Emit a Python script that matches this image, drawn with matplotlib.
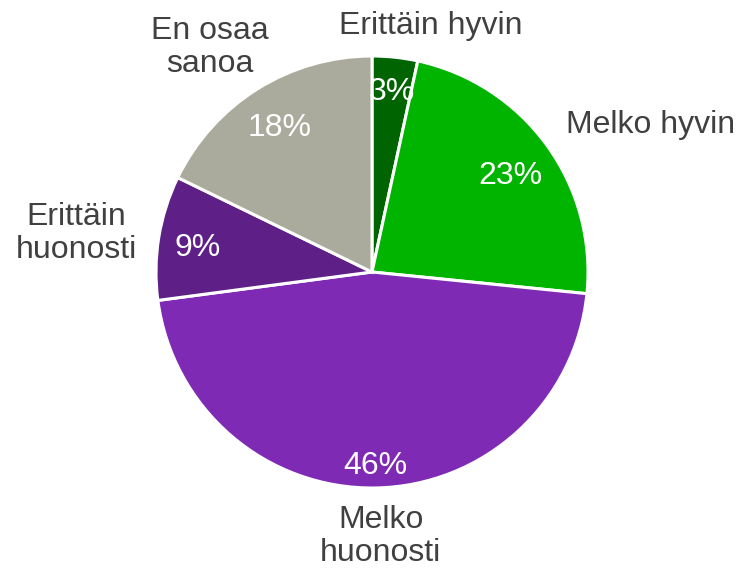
import matplotlib
matplotlib.use("Agg")
import matplotlib.pyplot as plt
import numpy as np

# Data (clockwise from top)
categories = ["Erittäin hyvin", "Melko hyvin", "Melko\nhuonosti", "Erittäin\nhuonosti", "En osaa\nsanoa"]
shares = [3.4, 23.2, 46.3, 9.3, 17.8]
colors = ["#006400", "#00B400", "#7F2AB5", "#5E1F87", "#ABAB9D"]

plt.rcParams["font.family"] = ["Liberation Sans", "DejaVu Sans"]

fig = plt.figure(figsize=[7.38, 5.72], dpi=100)
ax = fig.add_axes([156 / 738, 84 / 572, 432 / 738, 432 / 572])

wedges, texts, autotexts = ax.pie(
    shares, labels=categories, colors=colors, startangle=90, counterclock=False,
    autopct="%1.0f%%", pctdistance=0.83,
    wedgeprops=dict(edgecolor="white", linewidth=2.2),
    textprops=dict(fontsize=23, color="#404040", linespacing=1.12))

# percentage labels, slightly different distance per slice
pct_r = [0.86, 0.79, 0.88, 0.82, 0.81]
for w, t, r in zip(wedges, autotexts, pct_r):
    ang = np.deg2rad((w.theta1 + w.theta2) / 2)
    t.set_position((r * np.cos(ang), r * np.sin(ang) - 0.02))
    t.set_color("white")

# label positions (Excel-like placement)
label_pos = [(0.27, 1.14, "center"), (0.90, 0.68, "left"), (0.04, -1.225, "center"),
             (-1.09, 0.18, "right"), (-0.75, 1.04, "center")]
for t, (x, y, ha) in zip(texts, label_pos):
    t.set_position((x, y))
    t.set_ha(ha)
    t.set_va("center")
    t.set_multialignment("center")

ax.set_xlim(-1, 1)
ax.set_ylim(-1, 1)
ax.set_aspect("equal")

fig.savefig("out.png", dpi=100)
